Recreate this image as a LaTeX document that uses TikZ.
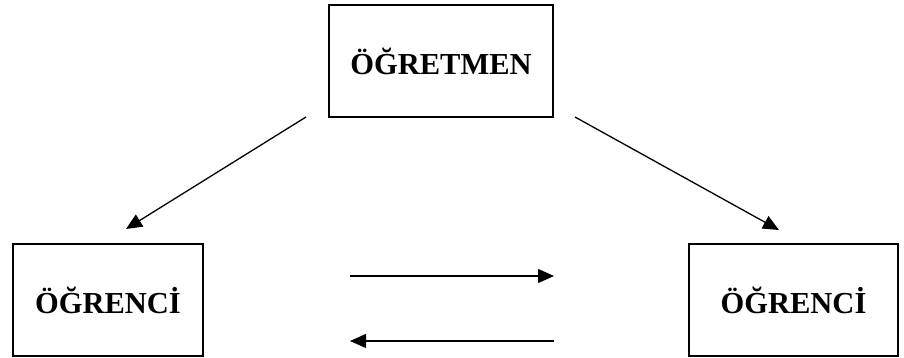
\documentclass[tikz,border=0pt]{standalone}
\usepackage{fontspec}
\setmainfont{Liberation Serif}
\usetikzlibrary{arrows.meta}
\tikzset{
 kutu/.style={draw,line width=1.3pt,rectangle,minimum height=112pt,
   font=\fontsize{30.5}{34}\selectfont\bfseries},
 ok/.style={line width=1.3pt,-{Triangle[length=16pt,width=14pt]}}
}
\begin{document}
\begin{tikzpicture}[x=1pt,y=-1pt]
 \useasboundingbox (0,0) rectangle (904,358);
 \node (ogretmen) at (441,61) [kutu,minimum width=224pt] {ÖĞRETMEN};
 \node (ogr1) at (108,300) [kutu,minimum width=190pt] {ÖĞRENCİ};
 \node (ogr2) at (793.5,300) [kutu,minimum width=209pt] {ÖĞRENCİ};

 \coordinate (s1) at (306,117);
 \coordinate (t1) at (126,229);
 \coordinate (s2) at (575,117);
 \coordinate (t2) at (779,230);
 \draw[ok] (s1) -- (t1);
 \draw[ok] (s2) -- (t2);

 \coordinate (h1) at (350,276);
 \coordinate (h2) at (554,276);
 \coordinate (h3) at (554,341);
 \coordinate (h4) at (350,341);
 \draw[ok] (h1) -- (h2);
 \draw[ok] (h3) -- (h4);
\end{tikzpicture}
\end{document}
